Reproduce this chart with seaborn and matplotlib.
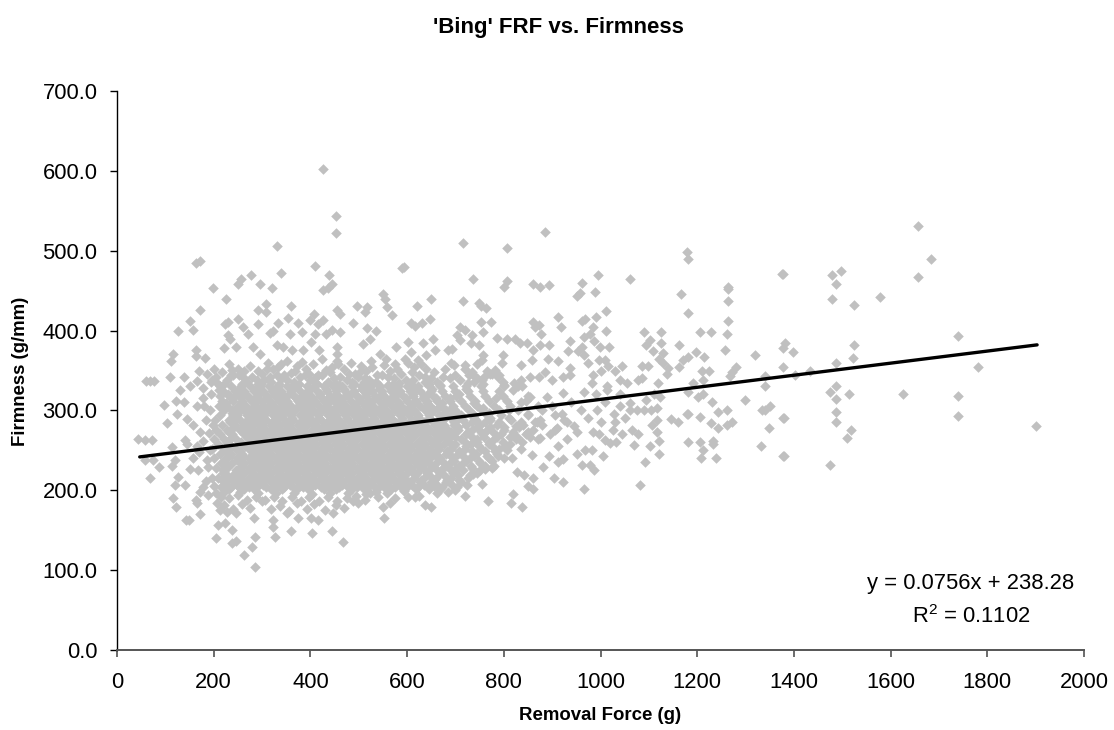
#!/usr/bin/env python3
# 'Bing' FRF vs. Firmness scatter with trendline
import pandas as pd
import matplotlib
matplotlib.use('Agg')
import matplotlib.pyplot as plt
import seaborn as sns

# points readable on their own, (removal force g, firmness g/mm)
upper_left = [(427,602),(453,544),(453,522),(330,506),(163,485),(172,487),(593,480),(590,478),(409,481),(339,472),
    (439,470),(277,470),(256,465),(251,458),(296,458),(321,453),(198,453),(444,458),(437,453),(427,451),(550,446),
    (554,440),(650,439),(225,439),(309,433),(360,431),(497,431),(517,430),(512,423),(621,431),(559,430),(292,426),
    (172,426),(309,423),(568,419),(454,426),(462,421),(407,421),(399,413),(647,415),(151,412),(251,414),(230,411),
    (223,408),(354,416),(375,410),(333,410),(427,413),(416,408),(489,410),(609,410),(616,406),(630,410),(292,408),
    (260,405),(158,401),(127,399),(517,403),(535,399),(323,399),(316,397),(271,396),(230,394),(233,390),(358,396),
    (382,398),(433,396),(461,398),(444,401),(409,396),(402,386),(509,383),(524,389),(654,390),(633,385),(602,386),
    (578,380),(247,380),(221,378),(163,376),(163,368),(115,371),(112,362),(183,366),(282,380),(296,371),(330,382),
    (344,380),(361,376),(385,376),(418,376),(454,380),(454,371),(454,362),(544,371),(557,365),(609,373),(623,363),
    (657,376),(640,369),(685,376)]

lower_left = [(68,337),(61,337),(76,337),(110,342),(138,342),(130,326),(151,330),(178,315),(196,338),(211,325),
    (98,307),(121,312),(139,310),(166,306),(125,296),(145,289),(104,284),(158,282),(172,273),(185,288),(199,282),
    (44,264),(58,263),(73,263),(141,263),(145,258),(113,254),(58,238),(75,238),(87,229),(120,238),(113,231),(69,215),
    (127,217),(120,207),(140,207),(151,227),(168,225),(189,229),(178,204),(172,198),(189,194),(116,190),(121,179),
    (163,188),(166,184),(143,163),(148,163),(172,170),(206,184),(213,175),(227,173),(247,172),(283,165),(209,156),
    (223,159),(237,150),(204,140),(237,134),(247,137),(285,142),(280,129),(263,119),(286,104),(327,142),(323,154),
    (360,149),(403,147),(444,149),(468,135),(553,165),(564,184),(550,179),(575,190),(602,192),(616,192),(637,181),
    (650,179),(416,163),(402,165),(375,165),(351,171),(323,163),(447,171),(489,186),(523,196),(661,196),(685,198),
    (192,300),(180,306),(195,320),(205,335),(178,328),(186,346),(170,349),(200,352),(165,337),(190,272),(178,262),
    (192,250),(170,248),(186,238),(196,215),(185,212),(200,205),(204,196),(158,240),(165,255)]

upper_mid = [(715,510),(885,523),(806,503),(1179,498),(1182,490),(1375,471),(736,465),(806,462),(801,454),(861,458),
    (874,454),(894,457),(962,459),(994,469),(1062,465),(958,447),(951,443),(988,448),(1167,446),(1264,455),(1264,452),
    (1264,437),(715,437),(748,435),(752,431),(763,428),(1182,422),(1011,424),(991,417),(913,417),(918,405),(961,412),
    (968,414),(1264,412),(753,411),(774,411),(861,411),(872,407),(876,396),(865,404),(985,405),(978,396),(965,392),
    (1011,399),(1091,398),(1126,398),(1206,398),(1228,398),(1261,396),(710,405),(720,401),(703,394),(710,388),(734,394),
    (758,398),(748,382),(732,384),(785,391),(806,390),(823,389),(834,385),(847,385),(936,387),(894,382),(875,382),
    (861,376),(987,387),(998,379),(1018,380),(1102,388),(1095,382),(1126,385),(1109,375),(1162,382),(961,380),(954,374),
    (932,374),(965,369),(1258,376),(1197,373),(1215,367),(1319,369),(1130,372),(1120,365),(1130,359),(1182,367),
    (1171,363),(1163,355),(758,369),(754,363),(799,369),(796,359),(835,357),(858,363),(892,365),(912,362),(974,359),
    (996,363),(1009,363),(1016,356),(1002,350),(1029,350),(1044,356),(1085,356),(1099,356),(1140,353),(1137,346),
    (1209,350),(1225,350),(1280,354),(1271,348),(1268,343),(1340,343),(1340,330),(696,357),(720,357),(692,377),(734,348),
    (754,338),(772,346),(782,351),(789,342),(799,336),(830,331),(854,342),(885,348),(872,342),(937,353),(937,344),
    (923,342),(899,338),(985,344),(982,334),(1013,330),(1040,338),(1054,334),(1078,338),(1085,340),(1118,334),(1213,338),
    (1192,334),(965,323),(923,322),(889,317),(854,317),(1013,326),(1182,323),(1202,317),(1213,321),(1231,311),(1299,313),
    (1340,300),(1350,305),(1333,301),(1244,298),(1261,300),(1180,295),(1061,309),(1095,313),(1116,303),(1123,317),
    (992,300),(1027,296),(1040,305)]

lower_mid = [(1179,295),(1206,292),(1145,289),(1161,286),(1228,284),(1244,278),(1261,282),(1271,286),(1349,278),
    (1378,291),(1182,260),(1206,260),(1232,262),(1232,258),(1211,251),(1332,255),(1208,241),(1238,241),(1378,243),
    (1116,288),(1106,282),(1116,273),(1120,262),(1102,255),(1120,245),(1077,270),(1070,257),(1093,235),(1082,207),
    (1033,261),(1009,263),(1020,259),(996,271),(985,273),(982,250),(968,251),(951,246),(1006,243),(961,232),(978,232),
    (987,225),(923,239),(913,236),(894,243),(858,244),(881,229),(903,216),(923,211),(965,202),(861,216),(841,219),
    (827,223),(851,205),(861,202),(820,195),(815,184),(838,179),(768,187),(754,208),(720,193),(736,220),(699,200),
    (723,207),(761,227),(779,230),(913,255),(930,264),(951,273),(909,278),(896,271),(875,265),(854,267),(827,267),
    (806,250),(816,240),(1040,320),(1060,300),(1010,310),(1030,285),(1000,285),(975,290),(960,300),(940,310),(920,295),
    (900,305),(880,300),(865,285),(850,295),(835,310),(820,325),(810,300),(825,280),(945,280),(930,285),(1050,290),
    (1065,275),(1045,270),(1025,275),(990,320),(1075,300),(1090,300),(1105,300),(1110,320)]

far_right = [(1657,531),(1684,490),(1657,467),(1377,471),(1478,469),(1498,475),(1487,458),(1478,439),(1578,442),
    (1525,432),(1740,393),(1525,382),(1523,366),(1487,359),(1381,385),(1377,378),(1399,373),(1378,354),(1433,350),
    (1402,344),(1781,355),(1487,331),(1474,323),(1514,320),(1487,314),(1625,321),(1740,318),(1740,293),(1487,298),
    (1487,286),(1519,275),(1510,265),(1379,291),(1379,243),(1474,232),(1901,280)]

# bottom edge of the cloud, scalloped
bottom_fringe = [(222,182),(240,176),(258,183),(276,178),(300,186),(318,176),(338,180),(356,174),(372,184),(392,177),
    (408,183),(431,175),(452,181),(470,178),(498,184),(215,192),(232,190),(250,194),(268,188),(288,192),(306,188),
    (325,191),(342,187),(361,192),(380,186),(398,191),(417,187),(436,192),(455,186),(475,190),(494,193),(513,188),
    (540,192),(535,198),(558,196),(594,199),(515,195),(478,196),(440,197),(403,195),(366,197),(328,196),(291,197),
    (254,198),(222,198),(625,193),(655,205),(590,205)]

# top edge of the cloud
top_fringe = [(232,358),(250,352),(312,360),(332,354),(352,362),(372,356),(405,358),(425,364),(445,354),(485,360),
    (505,356),(525,362),(575,358),(595,364),(615,354),(690,360),(720,352),(745,358),(765,350),(218,348),(240,344),
    (262,350),(300,346),(322,352),(345,344),(368,349),(390,352),(415,344),(440,348),(470,352),(492,346),(515,350),
    (538,344),(565,350),(588,346),(610,348),(640,352),(700,344),(735,346),(760,342),(205,342),(228,338),(252,344),
    (280,342),(305,338),(330,344),(352,338),(378,342),(400,338),(425,344),(448,340),(475,338),(498,342),(522,338),
    (548,344),(572,340),(598,338),(625,344),(650,340),(675,342),(710,338),(745,340),(790,344),(195,335),(268,336),
    (292,333),(318,335),(365,332),(412,334),(460,332),(510,335),(560,332),(638,335),(668,332),(725,334),(800,332),(835,338),
    (238,351),(276,356),(292,349),(310,352),(340,358),(360,347),(382,361),(398,346),(432,351),(458,358),(480,345),(505,349),
    (528,355),(552,357),(580,352),(602,360),(628,358),(655,348),(678,352),(728,344),(775,345),
    (236,344),(262,340),(290,338),(316,342),(340,339),(366,336),(388,344),(410,340),(436,336),(462,342),(486,336),(512,340),
    (536,336),(560,342),(584,334),(612,338),(636,342),(662,336),(688,340),(738,336),(822,334)]

# the packed middle of the cloud, estimated as firmness rows
dense_firmness = [204,210,216,222,228,234,240,246,252,258,264,270,276,282,288,294,300,306,312,318,324,330]
dense_force = [
    [216,235,253,272,290,309,328,346,365,384,402,421,440,459,477,496,515,533,552,575,600,622,648,672,703],
    [226,245,263,282,300,319,338,356,375,394,412,431,450,468,487,506,525,543,562,585,603,626,650,680,712],
    [209,235,254,272,291,309,328,347,365,384,403,421,440,459,477,496,515,534,552,571,590,615,635,660,690,725],
    [220,245,263,282,300,319,338,356,375,394,412,431,450,468,487,506,525,543,562,581,600,620,642,668,695,745],
    [204,228,254,272,291,309,328,347,365,384,403,421,440,459,477,496,515,534,552,571,590,609,628,650,674,702,735,775],
    [215,238,263,282,300,319,338,356,375,394,412,431,450,468,487,506,525,543,562,581,600,619,638,660,688,716,750],
    [200,225,248,272,291,309,328,347,365,384,403,421,440,459,477,496,515,534,552,571,590,609,628,647,668,694,730,770,800],
    [212,236,258,282,300,319,338,356,375,394,412,431,450,468,487,506,525,543,562,581,600,619,638,657,680,705,742,785],
    [196,222,246,272,291,309,328,347,365,384,403,421,440,459,477,496,515,534,552,571,590,609,628,647,666,690,720,752,790,835],
    [208,232,258,282,300,319,338,356,375,394,412,431,450,468,487,506,525,543,562,581,600,619,638,657,676,700,732,770,812],
    [200,222,246,272,291,309,328,347,365,384,403,421,440,459,477,496,515,534,552,571,590,609,628,647,666,685,712,744,780,825,870],
    [214,238,263,282,300,319,338,356,375,394,412,431,450,468,487,506,525,543,562,581,600,619,638,657,676,695,722,756,795,845],
    [205,228,254,272,291,309,328,347,365,384,403,421,440,459,477,496,515,534,552,571,590,609,628,647,666,685,706,735,765,800,860,905],
    [218,245,263,282,300,319,338,356,375,394,412,431,450,468,487,506,525,543,562,581,600,619,638,657,676,698,722,750,785,840,880],
    [202,232,254,272,291,309,328,347,365,384,403,421,440,459,477,496,515,534,552,571,590,609,628,650,672,695,716,742,772,815,875,925],
    [212,240,248,268,285,305,322,342,360,378,398,415,436,452,472,490,510,528,546,565,585,604,622,645,665,690,712,738,765,795,850,905],
    [222,238,256,276,296,312,332,350,368,388,406,426,444,464,482,500,520,540,556,576,596,614,636,655,680,700,728,755,790,830],
    [210,228,250,266,288,304,324,344,360,380,396,418,434,456,474,492,512,530,550,568,588,608,626,648,670,695,720,745,780,812,870],
    [218,240,258,280,298,316,336,352,374,390,410,428,448,466,484,504,522,542,562,580,600,618,642,662,688,712,740,770,806,845],
    [212,232,252,270,290,310,326,346,366,382,402,420,440,458,478,496,516,534,552,572,592,612,634,654,678,702,730,762,798,850],
    [220,244,262,284,302,320,340,360,378,396,414,434,452,472,490,510,528,548,566,586,606,626,650,672,700,726,756,790],
    [214,236,256,276,296,314,334,352,372,392,408,428,446,466,486,504,522,544,560,582,600,622,646,668,695,722,752,800,838],
]

# second pass through the core, between the rows above
core_firmness = [201,207,213,219,225,231,237,243,249,255,261,267,273,279,285,291,297,303,309,315,321,327,333]
core_force = [
    [232,262,284,318,341,372,396,428,452,486,510,538,566,592,618,645,668],
    [222,248,276,302,330,358,382,410,440,466,498,524,552,578,610,634,662,692],
    [218,244,270,298,322,352,378,404,432,462,488,516,544,572,598,628,655,682,708],
    [228,256,284,312,340,366,394,424,454,480,508,536,564,590,616,646,676,705,730],
    [220,246,276,304,330,358,386,414,442,470,500,526,556,582,610,636,662,690,716,750],
    [230,258,286,314,344,372,400,428,456,484,514,542,570,598,624,652,680,708,732,762],
    [222,250,280,308,334,362,390,420,448,476,504,532,560,588,616,642,672,698,722,748,775],
    [232,260,290,318,346,376,404,432,460,490,518,546,574,602,630,660,690,716,738,765,788],
    [226,254,282,310,338,368,396,424,452,480,510,538,566,594,622,650,682,708,734,762,782],
    [236,264,294,322,350,378,408,436,464,492,520,550,578,606,634,664,694,722,748,776,802],
    [228,256,286,314,342,370,398,426,456,484,512,540,568,596,626,654,686,720,745,770,798,838],
    [238,268,296,324,352,382,410,438,466,494,524,552,580,608,636,668,700,735,760,786,812],
    [232,260,288,316,344,374,402,430,458,486,516,544,572,600,628,658,690,725,752,778,818,850],
    [242,270,300,328,356,384,412,442,470,498,526,554,584,612,640,672,706,745,772,800,832],
    [234,264,292,320,350,378,406,434,462,492,520,548,576,606,634,664,698,735,762,790,835,868],
    [246,276,304,332,362,390,418,446,476,504,532,560,590,618,646,678,708,738,772,810],
    [238,268,298,326,356,386,414,444,472,502,530,560,588,618,648,676,704,770],
    [250,282,312,342,370,400,430,460,490,518,548,578,606,638,664,692,756],
    [226,258,284,318,348,378,406,436,466,496,524,554,584,612,642,672,738],
    [240,274,308,338,370,404,436,468,500,534,566,598,632,660,688,784],
    [230,262,294,326,356,388,420,452,484,516,548,580,612,644,708],
    [252,290,326,362,398,432,470,506,542,578,616,652,722],
    [222,258,298,336,376,414,452,490,530,570,608,646,756],
]

# excel trendline, y = 0.0756x + 238.28
trend_force = [47, 1903]
trend_firmness = [241.8, 382.1]

y_ticks = [0, 100, 200, 300, 400, 500, 600, 700]
x_ticks = [0, 200, 400, 600, 800, 1000, 1200, 1400, 1600, 1800, 2000]

#build the table
pairs = upper_left + lower_left + upper_mid + lower_mid + far_right + bottom_fringe + top_fringe
for level, forces in zip(dense_firmness + core_firmness, dense_force + core_force):
    pairs = pairs + [(f, level) for f in forces]
df = pd.DataFrame(pairs, columns=['force', 'firmness'])
trend = pd.DataFrame({'force': trend_force, 'firmness': trend_firmness})

sns.set_theme(style='white')
plt.rcParams['font.family'] = ['Liberation Sans', 'DejaVu Sans']
plt.rcParams['mathtext.default'] = 'regular'

fig = plt.figure(figsize=(11.14, 7.30), dpi=100)
ax = fig.add_axes([117/1114, 80/730, 967/1114, 559/730])

sns.scatterplot(data=df, x='force', y='firmness', marker='D', color='#C0C0C0', s=29, linewidth=0, ax=ax, clip_on=False)
sns.lineplot(data=trend, x='force', y='firmness', color='black', linewidth=2.4, ax=ax, errorbar=None)

ax.set_xlim(0, 2000)
ax.set_ylim(0, 700)
ax.set_xticks(x_ticks)
ax.set_yticks(y_ticks)
ax.set_yticklabels([f'{t:.1f}' for t in y_ticks])
ax.tick_params(axis='both', direction='out', length=5, labelsize=15.8, labelcolor='black', bottom=True, left=True)
ax.tick_params(axis='x', pad=11, width=1.1, color='#444444')
ax.tick_params(axis='y', pad=9, width=1, color='black')
sns.despine(ax=ax)
ax.spines['left'].set_linewidth(1)
ax.spines['left'].set_color('black')
ax.spines['bottom'].set_linewidth(1.4)
ax.spines['bottom'].set_color('#555555')
ax.set_xlabel('')
ax.set_ylabel('')

fig.text(558/1114, 1-27/730, "'Bing' FRF vs. Firmness", ha='center', va='center', fontsize=16, weight='bold', color='black')
fig.text(600/1114, 1-715/730, 'Removal Force (g)', ha='center', va='center', fontsize=13.4, weight='bold', color='black')
fig.text(21/1114, 1-371/730, 'Firmness (g/mm)', ha='center', va='center', rotation=90, fontsize=13.4, weight='bold', color='black')
fig.text(971/1114, 1-583/730, 'y = 0.0756x + 238.28', ha='center', va='center', fontsize=15.8, color='black')
fig.text(971/1114, 1-617/730, 'R$^2$ = 0.1102', ha='center', va='center', fontsize=15.8, color='black')

fig.savefig('out.png', dpi=100)
